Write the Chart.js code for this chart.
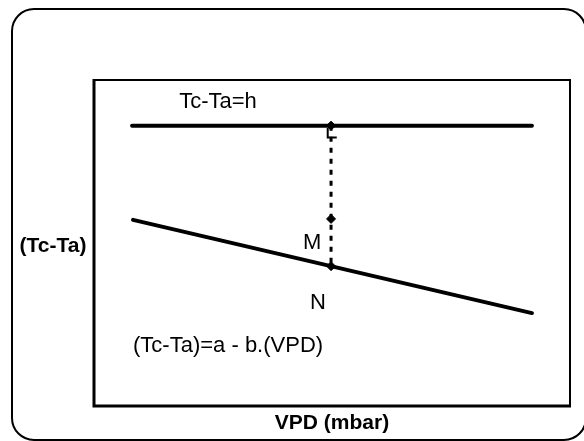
<!DOCTYPE html>
<html>
<head>
<meta charset="utf-8">
<script src="https://cdn.jsdelivr.net/npm/chart.js@4.4.1/dist/chart.umd.min.js"></script>
<style>
  html, body { margin: 0; padding: 0; background: #fff; }
  canvas { display: block; }
</style>
</head>
<body>
<canvas id="c" width="584" height="441"></canvas>
<script>
// Axis ranges (arbitrary units, no ticks shown)
const vpdRange = [0, 100];
const tcTaRange = [0, 100];

// Upper limit line: Tc-Ta = h
const upperVpd = [8, 92];
const upperTcTa = [86, 86];

// Lower baseline: (Tc-Ta) = a - b.(VPD)
const baseVpd = [8.2, 92];
const baseTcTa = [57.1, 28.5];

// Points on the vertical through the measured VPD
const pointVpd = [49.8, 49.8, 49.8];
const pointTcTa = [86, 57.4, 42.9];

// Right-angle mark under the upper line
const cornerVpd = [49.1, 49.1, 51.0];
const cornerTcTa = [85.3, 82.4, 82.4];

// Text labels
const axisTitleX = 'VPD (mbar)';
const axisTitleY = '(Tc-Ta)';
const labelTexts = ['Tc-Ta=h', 'M', 'N', '(Tc-Ta)=a - b.(VPD)'];
const labelVpd = [17.9, 43.9, 45.4, 8.2];
const labelTcTa = [91.4, 48.2, 29.8, 16.6];

const toPoints = (xs, ys) => xs.map((x, i) => ({ x, y: ys[i] }));

const FONT = '"Liberation Sans", Arial, sans-serif';

const framePlugin = {
  id: 'frame',
  beforeDraw(chart) {
    const ctx = chart.ctx;
    ctx.save();
    ctx.fillStyle = '#fff';
    ctx.fillRect(0, 0, chart.width, chart.height);
    ctx.strokeStyle = '#000';
    ctx.lineWidth = 2;
    ctx.beginPath();
    ctx.roundRect(12, 9, 574, 431, 22);
    ctx.stroke();
    ctx.restore();
  },
  afterDraw(chart) {
    const ctx = chart.ctx;
    const a = chart.chartArea;
    ctx.save();
    ctx.strokeStyle = '#000';
    // thin top and right edges
    ctx.lineWidth = 2;
    ctx.beginPath();
    ctx.moveTo(a.left, a.top);
    ctx.lineTo(a.right, a.top);
    ctx.lineTo(a.right, a.bottom);
    ctx.stroke();
    // heavy axes on left and bottom
    ctx.lineWidth = 3;
    ctx.beginPath();
    ctx.moveTo(a.left, a.top - 1);
    ctx.lineTo(a.left, a.bottom + 1.5);
    ctx.moveTo(a.left - 1.5, a.bottom);
    ctx.lineTo(a.right + 1, a.bottom);
    ctx.stroke();

    // annotations inside the plot
    const xs = chart.scales.x, ys = chart.scales.y;
    ctx.fillStyle = '#000';
    ctx.font = '22px ' + FONT;
    ctx.textAlign = 'left';
    ctx.textBaseline = 'alphabetic';
    labelTexts.forEach((t, i) => {
      ctx.fillText(t, xs.getPixelForValue(labelVpd[i]), ys.getPixelForValue(labelTcTa[i]));
    });

    // axis titles
    ctx.font = 'bold 21px ' + FONT;
    ctx.textAlign = 'center';
    ctx.textBaseline = 'middle';
    ctx.fillText(axisTitleY, 53, 246);
    ctx.fillText(axisTitleX, (a.left + a.right) / 2, 423);
    ctx.restore();
  }
};

new Chart(document.getElementById('c'), {
  type: 'scatter',
  data: {
    datasets: [
      {
        data: toPoints(upperVpd, upperTcTa),
        showLine: true, borderColor: '#000', borderWidth: 4,
        borderCapStyle: 'round', pointRadius: 0
      },
      {
        data: toPoints(baseVpd, baseTcTa),
        showLine: true, borderColor: '#000', borderWidth: 4,
        borderCapStyle: 'round', pointRadius: 0
      },
      {
        data: toPoints(pointVpd, pointTcTa),
        showLine: true, borderColor: '#000', borderWidth: 3,
        borderDash: [5, 6], pointStyle: 'rectRot', pointRadius: 4.5,
        pointBackgroundColor: '#000', pointBorderColor: '#000', pointBorderWidth: 1
      },
      {
        data: toPoints(cornerVpd, cornerTcTa),
        showLine: true, borderColor: '#000', borderWidth: 2, pointRadius: 0
      }
    ]
  },
  options: {
    responsive: false,
    animation: false,
    events: [],
    layout: { padding: { left: 94, top: 80, right: 14, bottom: 35 } },
    scales: {
      x: { type: 'linear', display: false, min: vpdRange[0], max: vpdRange[1] },
      y: { type: 'linear', display: false, min: tcTaRange[0], max: tcTaRange[1] }
    },
    plugins: {
      legend: { display: false },
      tooltip: { enabled: false }
    }
  },
  plugins: [framePlugin]
});
</script>
</body>
</html>
